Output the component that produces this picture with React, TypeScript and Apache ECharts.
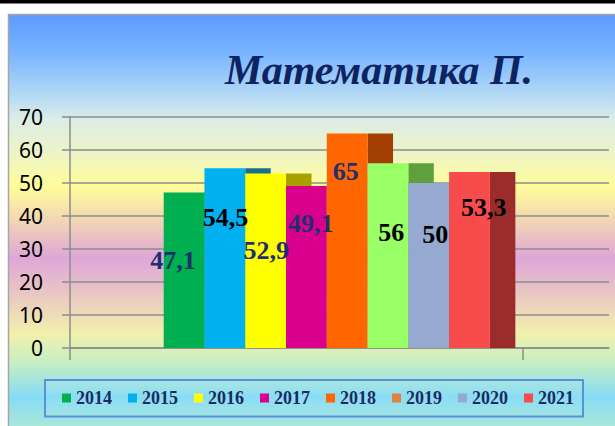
import React, { useEffect, useRef } from "react";
import * as echarts from "echarts";

// ---- data ----
const YEARS = ["2014", "2015", "2016", "2017", "2018", "2019", "2020", "2021"];
const VALUES = [47.1, 54.5, 52.9, 49.1, 65, 56, 50, 53.3];
const Y_MIN = 0;
const Y_MAX = 70;
const Y_STEP = 10;
const TITLE = "Математика П.";

// ---- styles ----
const LEGEND_COLORS = ["#00B050", "#00B0F0", "#FFFF00", "#DA008E", "#FF6600", "#E0823D", "#95A9D1", "#F84B4B"];
const FRONT_COLORS = ["#00B050", "#00B0F0", "#FFFF00", "#DA008E", "#FF6600", "#99FF66", "#95A9D1", "#F84B4B"];
const SIDE_COLORS = ["#00803A", "#17708F", "#A8A200", "#8E005C", "#A33F00", "#5FA03D", "#60709F", "#9C2C2C"];
const LABEL_COLORS = ["#1F2F6E", "#000000", "#1F2F6E", "#1F2F6E", "#1F2F6E", "#000000", "#000000", "#000000"];
// label anchor: [horizontal px offset from bar centre, vertical position in axis units]
const LABEL_ANCHORS: [number, number][] = [
  [-11, 26.4], [0.6, 39.4], [0.7, 29.4], [4.4, 37.8],
  [-1.4, 53.6], [3.3, 35.0], [6.6, 34.5], [14.3, 42.5],
];
const X_MIN = -2.298;
const X_MAX = 10.922;
const SIDE = 0.625;
const GRAY = "#8C8C8C";
const SERIF = "'Liberation Serif', 'Times New Roman', serif";

const fmt = (v: number) => String(v).replace(".", ",");

export default function App() {
  const ref = useRef<HTMLDivElement>(null);
  useEffect(() => {
    if (!ref.current) return;
    const chart = echarts.init(ref.current, undefined, { renderer: "svg" });

    const series: any[] = YEARS.map((year, idx) => ({
      type: "custom",
      name: year,
      xAxisIndex: 0,
      yAxisIndex: 0,
      z: 2,
      clip: false,
      itemStyle: { color: LEGEND_COLORS[idx] },
      data: [[idx, VALUES[idx]]],
      renderItem: (params: any, api: any) => {
        const i = api.value(0);
        const v = api.value(1);
        const p0 = api.coord([i, 0]);
        const p1 = api.coord([i + 1, v]);
        const pSide = api.coord([i + 1 + SIDE, v]);
        const [dx, ly] = LABEL_ANCHORS[i];
        const pc = api.coord([i + 0.5, ly]);
        return {
          type: "group",
          children: [
            {
              type: "rect",
              z2: i * 2,
              shape: { x: p1[0], y: p1[1], width: pSide[0] - p1[0], height: p0[1] - p1[1] },
              style: { fill: SIDE_COLORS[i] },
            },
            {
              type: "rect",
              z2: i * 2 + 1,
              shape: { x: p0[0], y: p1[1], width: p1[0] - p0[0], height: p0[1] - p1[1] },
              style: { fill: FRONT_COLORS[i] },
            },
            {
              type: "text",
              z2: 100,
              x: pc[0] + dx,
              y: pc[1],
              style: {
                text: fmt(v),
                fill: LABEL_COLORS[i],
                font: `bold 26px ${SERIF}`,
                align: "center",
                verticalAlign: "middle",
              },
            },
          ],
        };
      },
    }));

    const option: any = {
      animation: false,
      backgroundColor: "#ffffff",
      graphic: [
        { type: "rect", z: -20, shape: { x: 0, y: 0, width: 615, height: 3.5 }, style: { fill: "#000" } },
        {
          type: "rect",
          z: -20,
          shape: { x: 8.5, y: 14.5, width: 620, height: 420 },
          style: {
            stroke: "#A6A6A6",
            lineWidth: 1.5,
            fill: {
              type: "linear",
              x: 0, y: 0, x2: 0, y2: 1,
              colorStops: [
                { offset: 0.0, color: "#5C9AFE" },
                { offset: 0.09, color: "#78B4FF" },
                { offset: 0.2, color: "#B8DCF4" },
                { offset: 0.25, color: "#DDEDE6" },
                { offset: 0.33, color: "#EEF4C6" },
                { offset: 0.41, color: "#FFFD9A" },
                { offset: 0.49, color: "#F1D6B4" },
                { offset: 0.58, color: "#DFA6D8" },
                { offset: 0.675, color: "#EACBC0" },
                { offset: 0.76, color: "#F2F0AC" },
                { offset: 0.83, color: "#C6EEC4" },
                { offset: 0.91, color: "#86DCF6" },
                { offset: 1.0, color: "#B4EAD2" },
              ],
            },
          },
        },
        {
          type: "text",
          z: -5,
          x: 379,
          y: 70,
          style: {
            text: TITLE,
            fill: "#0E2462",
            font: `italic bold 42px ${SERIF}`,
            align: "center",
            verticalAlign: "middle",
          },
        },
        {
          type: "rect",
          z: -5,
          shape: { x: 45, y: 380, width: 538, height: 36.5 },
          style: { fill: "rgba(255,255,255,0.04)", stroke: "#5B8FD8", lineWidth: 2 },
        },
      ],
      legend: {
        data: YEARS,
        left: 62,
        top: 389,
        padding: 0,
        itemWidth: 9,
        itemHeight: 9,
        itemGap: 16,
        icon: "rect",
        textStyle: { fontFamily: SERIF, fontWeight: "bold", fontSize: 18, color: "#1A2B5F" },
      },
      grid: [
        { left: 70, right: 6, top: 117, bottom: 78 },
        { left: 70, right: 92.3, top: 117, bottom: 78 },
      ],
      xAxis: [
        {
          type: "value",
          gridIndex: 0,
          min: X_MIN,
          max: X_MAX,
          axisLine: { show: true, onZero: false, lineStyle: { color: GRAY, width: 1.5 } },
          axisTick: { show: false },
          axisLabel: { show: false },
          splitLine: { show: false },
        },
        {
          type: "category",
          gridIndex: 1,
          data: [""],
          boundaryGap: true,
          axisLine: { show: false, onZero: false },
          axisTick: { show: true, length: 12, lineStyle: { color: GRAY, width: 1.5 } },
          axisLabel: { show: false },
          splitLine: { show: false },
        },
      ],
      yAxis: [
        {
          type: "value",
          gridIndex: 0,
          min: Y_MIN,
          max: Y_MAX,
          interval: Y_STEP,
          axisLine: { show: true, onZero: false, lineStyle: { color: GRAY, width: 1.5 } },
          axisTick: { show: true, length: 8, lineStyle: { color: GRAY, width: 1.5 } },
          axisLabel: { margin: 27, fontSize: 21, color: "#000", fontFamily: "'Noto Sans', sans-serif" },
          splitLine: { show: true, lineStyle: { color: GRAY, width: 1.5 } },
        },
        {
          type: "value",
          gridIndex: 1,
          min: Y_MIN,
          max: Y_MAX,
          axisLine: { show: false, onZero: false },
          axisTick: { show: false },
          axisLabel: { show: false },
          splitLine: { show: false },
        },
      ],
      series,
    };
    chart.setOption(option);
    return () => chart.dispose();
  }, []);

  return (
    <div
      ref={ref}
      style={{ position: "fixed", left: 0, top: 0, width: 615, height: 426 }}
    />
  );
}
